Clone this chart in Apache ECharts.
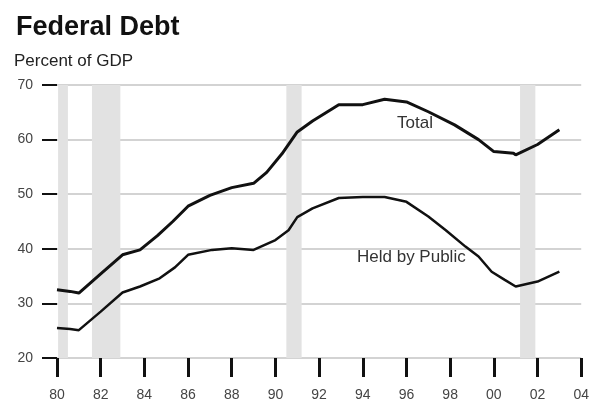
<!DOCTYPE html>
<html>
<head>
<meta charset="utf-8">
<script src="https://cdn.jsdelivr.net/npm/echarts@6/dist/echarts.min.js"></script>
<style>
  html, body { margin: 0; padding: 0; background: #fff; }
  #chart { width: 592px; height: 403px; }
</style>
</head>
<body>
<div id="chart"></div>
<script>
// Gross federal debt, percent of GDP: [year, value]
const totalDebt = [
  [1980.0, 32.5], [1980.6, 32.2], [1981.0, 31.9], [1982.0, 35.4], [1983.0, 38.9],
  [1983.8, 39.8], [1984.6, 42.4], [1985.3, 45.0], [1986.0, 47.8], [1987.0, 49.8],
  [1988.0, 51.2], [1989.0, 52.0], [1989.6, 54.0], [1990.3, 57.4], [1991.0, 61.4],
  [1991.7, 63.4], [1992.9, 66.4], [1994.0, 66.4], [1995.0, 67.4], [1996.0, 66.9],
  [1997.0, 65.1], [1998.2, 62.7], [1999.3, 60.0], [2000.0, 57.8], [2000.9, 57.5],
  [2001.0, 57.2], [2002.0, 59.1], [2003.0, 61.8]
];

// Debt held by the public, percent of GDP: [year, value]
const heldByPublic = [
  [1980.0, 25.5], [1980.6, 25.3], [1981.0, 25.1], [1982.0, 28.5], [1983.0, 32.0],
  [1983.8, 33.1], [1984.7, 34.6], [1985.4, 36.6], [1986.0, 38.9], [1987.1, 39.8],
  [1988.0, 40.1], [1989.0, 39.8], [1990.0, 41.6], [1990.6, 43.4], [1991.0, 45.8],
  [1991.7, 47.4], [1992.9, 49.3], [1994.0, 49.5], [1995.0, 49.5], [1996.0, 48.6],
  [1997.0, 45.9], [1997.8, 43.4], [1998.7, 40.4], [1999.3, 38.6], [1999.9, 35.8],
  [2000.5, 34.3], [2001.0, 33.1], [2002.0, 34.0], [2003.0, 35.8]
];

// Recession periods (shaded): [start, end] in fractional years
const recessions = [
  [1980.05, 1980.5],
  [1981.6, 1982.9],
  [1990.5, 1991.2],
  [2001.2, 2001.9]
];

// Axis ranges and tick steps
const yearMin = 1980, yearMax = 2004, yearStep = 2;
const pctMin = 20, pctMax = 70, pctStep = 10;

const FONT = "'Liberation Sans', Arial, Helvetica, sans-serif";

const chart = echarts.init(document.getElementById('chart'), null, { renderer: 'canvas' });

chart.setOption({
  animation: false,
  backgroundColor: '#ffffff',
  title: [
    {
      text: 'Federal Debt',
      left: 11, top: 9,
      textStyle: { fontFamily: FONT, fontSize: 27, fontWeight: 'bold', color: '#111' }
    },
    {
      text: 'Percent of GDP',
      left: 9, top: 48,
      textStyle: { fontFamily: FONT, fontSize: 17, fontWeight: 'normal', color: '#222' }
    }
  ],
  grid: { left: 57, right: 7, top: 85, bottom: 45 },
  xAxis: {
    type: 'value',
    min: yearMin, max: yearMax, interval: yearStep,
    axisLine: { show: false },
    axisTick: { show: true, length: 19, lineStyle: { color: '#111', width: 3 } },
    axisLabel: {
      margin: 30,
      fontFamily: FONT, fontSize: 14, color: '#444',
      formatter: v => String(Math.round(v) % 100).padStart(2, '0')
    },
    splitLine: { show: false }
  },
  yAxis: {
    type: 'value',
    min: pctMin, max: pctMax, interval: pctStep,
    axisLine: { show: false },
    axisTick: { show: true, length: 15, lineStyle: { color: '#111', width: 2 } },
    axisLabel: { margin: 24, fontFamily: FONT, fontSize: 14, color: '#444' },
    splitLine: { show: true, lineStyle: { color: '#c4c4c4', width: 1.5 } }
  },
  series: [
    {
      name: 'Total',
      type: 'line',
      data: totalDebt,
      showSymbol: false,
      lineStyle: { color: '#111', width: 3 },
      z: 3,
      markArea: {
        silent: true,
        itemStyle: { color: '#e2e2e2' },
        data: recessions.map(r => [{ xAxis: r[0] }, { xAxis: r[1] }])
      }
    },
    {
      name: 'Held by Public',
      type: 'line',
      data: heldByPublic,
      showSymbol: false,
      lineStyle: { color: '#111', width: 2.5 },
      z: 3
    }
  ],
  graphic: [
    {
      type: 'text', left: 397, top: 115, z: 10,
      style: { text: 'Total', fontFamily: FONT, fontSize: 17, fill: '#333' }
    },
    {
      type: 'text', left: 357, top: 249, z: 10,
      style: { text: 'Held by Public', fontFamily: FONT, fontSize: 17, fill: '#333' }
    }
  ]
});
</script>
</body>
</html>
